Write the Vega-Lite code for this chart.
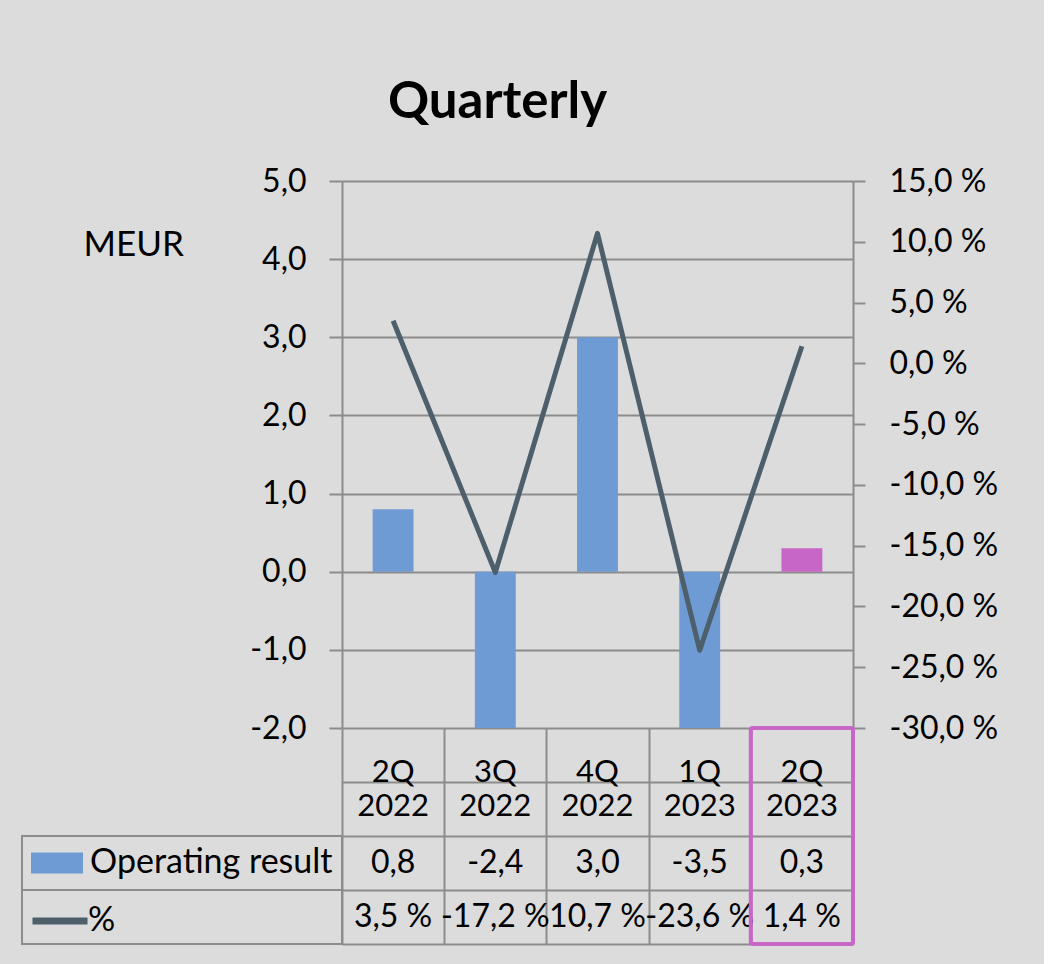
{
  "$schema": "https://vega.github.io/schema/vega-lite/v6.json",
  "background": "#dcdcdc",
  "padding": {"left": 21, "top": 77, "right": 46, "bottom": 19},
  "config": {
    "font": "Lato",
    "view": {"stroke": null},
    "locale": {"number": {"decimal": ",", "thousands": " ", "grouping": [3], "currency": ["", " €"], "percent": " %", "minus": "-"}},
    "axis": {"labelFont": "Lato", "labelFontSize": 32, "labelColor": "#000000", "domainColor": "#8c8c8c", "domainWidth": 2, "tickColor": "#8c8c8c", "tickWidth": 2, "gridColor": "#8c8c8c", "gridWidth": 2, "gridOpacity": 1},
    "legend": {"labelFont": "Lato", "labelFontSize": 34, "labelColor": "#000000", "labelLimit": 500, "padding": 0}
  },
  "datasets": {
    "quarters": [
      {"q": "2Q 2022", "result": 0.8, "pct": 0.035},
      {"q": "3Q 2022", "result": -2.4, "pct": -0.172},
      {"q": "4Q 2022", "result": 3.0, "pct": 0.107},
      {"q": "1Q 2023", "result": -3.5, "pct": -0.236},
      {"q": "2Q 2023", "result": 0.3, "pct": 0.014}
    ],
    "rows": [{"row": "Operating result"}, {"row": "%"}]
  },
  "columns": 2,
  "align": "each",
  "bounds": "flush",
  "spacing": 0,
  "concat": [
    {
      "width": 320, "height": 547,
      "data": {"name": "rows"},
      "mark": {"type": "point", "opacity": 0}
    },
    {
      "width": 511, "height": 547,
      "title": {"text": "Quarterly", "font": "Lato", "fontSize": 51, "fontWeight": "bold", "color": "#000000", "anchor": "middle", "frame": "group", "dx": -100, "offset": -4, "baseline": "alphabetic"},
      "data": {"name": "quarters"},
      "layer": [
        {
          "mark": {"type": "bar", "width": {"band": 0.4}, "clip": true},
          "encoding": {
            "x": {"field": "q", "type": "nominal", "sort": null, "scale": {"paddingInner": 0, "paddingOuter": 0}, "axis": null},
            "y": {"field": "result", "type": "quantitative", "scale": {"domain": [-2, 5], "nice": false, "zero": false},
              "axis": {"orient": "left", "values": [-2, -1, 0, 1, 2, 3, 4, 5], "format": ".1f", "grid": true, "tickSize": 13, "labelPadding": 23,
                "title": "MEUR", "titleAngle": 0, "titleX": -259, "titleY": 63, "titleAlign": "left", "titleBaseline": "middle", "titleFontWeight": "normal", "titleFontSize": 35, "titleFont": "Lato", "titleColor": "#000000"}},
            "fill": {"condition": {"test": "datum.q === '2Q 2023'", "value": "#c866c8"}, "datum": "Operating result", "type": "nominal", "scale": {"range": ["#6f9bd5"]},
              "legend": {"title": null, "orient": "none", "legendX": -311, "legendY": 656, "symbolType": "M-1,-0.4H1V0.4H-1Z", "symbolSize": 2704, "symbolStrokeWidth": 0, "labelOffset": 7, "symbolOffset": 0}}
          }
        },
        {
          "mark": {"type": "line", "strokeWidth": 5, "strokeJoin": "round"},
          "encoding": {
            "x": {"field": "q", "type": "nominal", "sort": null},
            "y": {"field": "pct", "type": "quantitative", "scale": {"domain": [-0.3, 0.15], "nice": false, "zero": false},
              "axis": {"orient": "right", "values": [-0.3, -0.25, -0.2, -0.15, -0.1, -0.05, 0, 0.05, 0.1, 0.15], "format": ".1%", "grid": false, "tickSize": 12, "labelPadding": 24, "title": null}},
            "stroke": {"datum": "%", "type": "nominal", "scale": {"range": ["#4e5f6c"]},
              "legend": {"title": null, "orient": "none", "legendX": -313, "legendY": 709, "symbolType": "stroke", "symbolSize": 3025, "symbolStrokeWidth": 7, "labelOffset": -3, "symbolOffset": 0}}
          }
        }
      ],
      "resolve": {"scale": {"y": "independent", "fill": "independent", "stroke": "independent"}}
    },
    {
      "width": 320, "height": 216,
      "data": {"name": "rows"},
      "mark": {"type": "rect", "fill": "transparent", "stroke": "#8c8c8c", "strokeWidth": 2},
      "encoding": {
        "y": {"field": "row", "type": "nominal", "sort": null, "scale": {"domain": ["head1", "head2", "Operating result", "%"], "paddingInner": 0, "paddingOuter": 0}, "axis": null}
      }
    },
    {
      "width": 511, "height": 216,
      "data": {"name": "quarters"},
      "layer": [
        {
          "mark": {"type": "text", "lineBreak": " ", "lineHeight": 34, "fontSize": 31, "font": "Lato", "color": "#000000", "baseline": "middle", "dy": -9},
          "encoding": {
            "x": {"field": "q", "type": "nominal", "sort": null, "scale": {"paddingInner": 0, "paddingOuter": 0},
              "axis": {"orient": "top", "tickBand": "extent", "grid": true, "labels": false, "ticks": false, "domain": false, "title": null}},
            "y": {"datum": "head2", "type": "nominal", "bandPosition": 0, "scale": {"domain": ["head1", "head2", "Operating result", "%"], "paddingInner": 0, "paddingOuter": 0},
              "axis": {"values": ["head2", "Operating result", "%"], "tickBand": "extent", "grid": true, "labels": false, "ticks": false, "domain": false, "title": null}},
            "text": {"field": "q"}
          }
        },
        {
          "mark": {"type": "text", "fontSize": 32, "font": "Lato", "color": "#000000", "baseline": "middle"},
          "encoding": {
            "x": {"field": "q", "type": "nominal", "sort": null},
            "y": {"datum": "Operating result", "type": "nominal"},
            "text": {"field": "result", "format": ".1f"}
          }
        },
        {
          "mark": {"type": "text", "fontSize": 32, "font": "Lato", "color": "#000000", "baseline": "middle"},
          "encoding": {
            "x": {"field": "q", "type": "nominal", "sort": null},
            "y": {"datum": "%", "type": "nominal"},
            "text": {"field": "pct", "format": ".1%"}
          }
        },
        {
          "mark": {"type": "rect", "fill": "transparent", "strokeWidth": 4, "cornerRadius": 2},
          "encoding": {
            "x": {"field": "q", "type": "nominal", "sort": null},
            "stroke": {"condition": {"test": "datum.q === '2Q 2023'", "value": "#c866c8"}, "value": "transparent"}
          }
        }
      ]
    }
  ]
}
